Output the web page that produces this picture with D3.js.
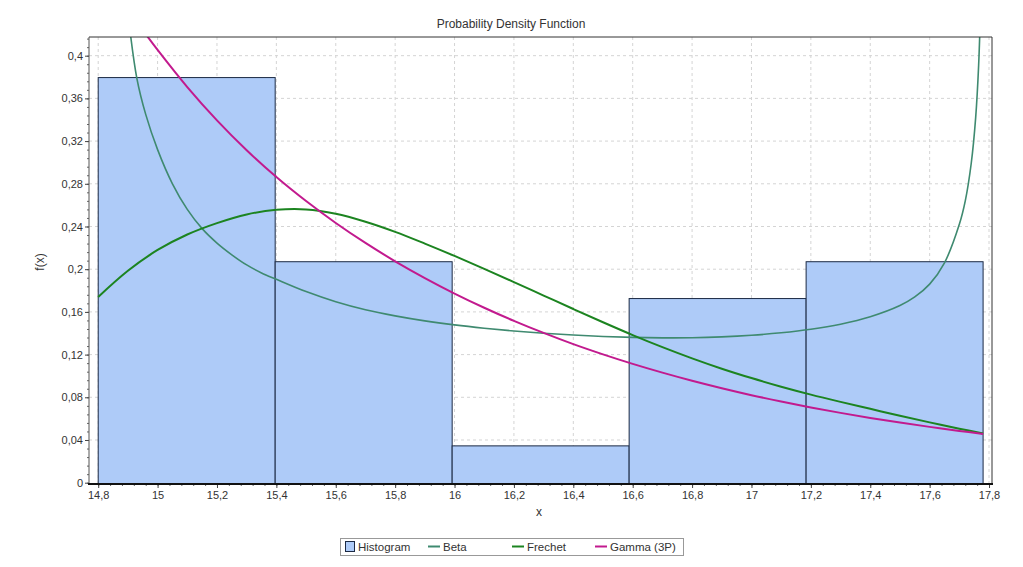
<!DOCTYPE html>
<html>
<head>
<meta charset="utf-8">
<script src="https://cdn.jsdelivr.net/npm/d3@7"></script>
<style>
  html, body { margin: 0; padding: 0; background: #fff; }
  svg text { font-family: "Liberation Sans", Arial, sans-serif; fill: #333; }
</style>
</head>
<body>
<svg id="chart" width="1023" height="567"></svg>
<script>
// ---------- DATA ----------
const binEdges = [14.8, 15.396, 15.992, 16.588, 17.184, 17.78];
const histValues = [0.3795, 0.207, 0.0345, 0.1725, 0.207];

const betaX = [14.9, 14.93, 14.96, 15.0, 15.05, 15.1, 15.15, 15.2, 15.25, 15.3, 15.35, 15.4, 15.5, 15.6, 15.7, 15.8, 15.9, 16.0, 16.1, 16.2, 16.3, 16.4, 16.5, 16.6, 16.7, 16.8, 16.9, 17.0, 17.1, 17.2, 17.3, 17.4, 17.5, 17.55, 17.6, 17.65, 17.7, 17.72, 17.74, 17.755, 17.765, 17.772];
const betaY = [0.44, 0.379, 0.345, 0.312, 0.280, 0.256, 0.238, 0.2245, 0.2135, 0.2040, 0.1965, 0.1905, 0.1790, 0.1695, 0.1620, 0.1563, 0.1516, 0.1478, 0.1447, 0.1421, 0.1400, 0.1383, 0.1370, 0.1361, 0.1357, 0.1358, 0.1366, 0.1381, 0.1404, 0.1437, 0.1485, 0.1555, 0.1660, 0.1740, 0.1860, 0.2060, 0.2420, 0.2640, 0.2990, 0.3420, 0.3910, 0.4510];

const frechetX = [14.8, 14.9, 15.0, 15.1, 15.2, 15.3, 15.4, 15.5, 15.6, 15.7, 15.8, 15.9, 16.0, 16.1, 16.2, 16.3, 16.4, 16.5, 16.6, 16.7, 16.8, 16.9, 17.0, 17.1, 17.2, 17.3, 17.4, 17.5, 17.6, 17.7, 17.78];
const frechetY = [0.174, 0.1985, 0.2180, 0.2325, 0.2432, 0.2513, 0.2556, 0.2560, 0.2520, 0.2445, 0.2350, 0.2240, 0.2124, 0.2003, 0.1879, 0.1753, 0.1627, 0.1503, 0.1383, 0.1270, 0.1165, 0.1068, 0.0980, 0.0899, 0.0825, 0.0757, 0.0692, 0.0627, 0.0565, 0.0506, 0.0460];

const gammaX = [14.96, 15.0, 15.1, 15.2, 15.3, 15.4, 15.5, 15.6, 15.7, 15.8, 15.9, 16.0, 16.1, 16.2, 16.3, 16.4, 16.5, 16.6, 16.7, 16.8, 16.9, 17.0, 17.1, 17.2, 17.3, 17.4, 17.5, 17.6, 17.7, 17.78];
const gammaY = [0.4202, 0.4054, 0.3706, 0.3394, 0.3114, 0.2863, 0.2638, 0.2433, 0.2246, 0.2074, 0.1917, 0.1772, 0.1639, 0.1516, 0.1403, 0.1298, 0.1202, 0.1113, 0.1031, 0.0955, 0.0885, 0.0820, 0.0761, 0.0705, 0.0654, 0.0607, 0.0563, 0.0523, 0.0485, 0.0457];

const xTicks = [14.8, 15, 15.2, 15.4, 15.6, 15.8, 16, 16.2, 16.4, 16.6, 16.8, 17, 17.2, 17.4, 17.6, 17.8];
const yTicks = [0, 0.04, 0.08, 0.12, 0.16, 0.2, 0.24, 0.28, 0.32, 0.36, 0.4];

const seriesNames = ["Histogram", "Beta", "Frechet", "Gamma (3P)"];
const seriesColors = ["#aecbf8", "#3f8a70", "#1c8420", "#c21a8e"];

// ---------- LAYOUT ----------
const svg = d3.select("#chart");
const L = 89, R = 992, T = 37, B = 484;
const x = d3.scaleLinear().domain([14.769, 17.81]).range([L, R]);
const y = d3.scaleLinear().domain([0, 0.4175]).range([482.7, T]);
const fmt = v => d3.format("~g")(+v.toFixed(3)).replace(".", ",");

svg.append("defs").append("clipPath").attr("id", "clip")
  .append("rect").attr("x", L).attr("y", T).attr("width", R - L).attr("height", B - T);

// grid
const grid = svg.append("g");
grid.selectAll("line.vx").data(xTicks).join("line")
  .attr("x1", d => x(d)).attr("x2", d => x(d)).attr("y1", T).attr("y2", B)
  .attr("stroke", "#d4d4d4").attr("stroke-dasharray", "3,3");
grid.selectAll("line.hy").data(yTicks.filter(d => d > 0)).join("line")
  .attr("x1", L).attr("x2", R).attr("y1", d => y(d)).attr("y2", d => y(d))
  .attr("stroke", "#d4d4d4").attr("stroke-dasharray", "3,3");

// histogram
const bins = histValues.map((v, i) => ({ x0: binEdges[i], x1: binEdges[i + 1], v }));
svg.append("g").selectAll("rect").data(bins).join("rect")
  .attr("x", d => x(d.x0)).attr("width", d => x(d.x1) - x(d.x0))
  .attr("y", d => y(d.v)).attr("height", d => y(0) - y(d.v) + 1.3)
  .attr("fill", seriesColors[0]).attr("stroke", "#1c2a44").attr("stroke-width", 1);

// curves
const line = d3.line().x(d => x(d[0])).y(d => y(d[1])).curve(d3.curveCatmullRom.alpha(0.5));
const curves = [
  { xs: betaX, ys: betaY, c: seriesColors[1], w: 1.6 },
  { xs: frechetX, ys: frechetY, c: seriesColors[2], w: 2 },
  { xs: gammaX, ys: gammaY, c: seriesColors[3], w: 2 }
];
const cg = svg.append("g").attr("clip-path", "url(#clip)");
curves.forEach(s => {
  cg.append("path").datum(s.xs.map((v, i) => [v, s.ys[i]]))
    .attr("d", line).attr("fill", "none").attr("stroke", s.c).attr("stroke-width", s.w);
});

// frame: top & right
svg.append("line").attr("x1", L).attr("x2", R).attr("y1", T).attr("y2", T).attr("stroke", "#333");
svg.append("line").attr("x1", R).attr("x2", R).attr("y1", T).attr("y2", B).attr("stroke", "#333");

// axes
const xMinor = d3.range(14.8, 17.81, 0.04);
const yMinor = d3.range(0, 0.4175, 0.008);
const xAxisMinor = d3.axisBottom(x).tickValues(xMinor).tickSize(2).tickFormat("");
const yAxisMinor = d3.axisLeft(y).tickValues(yMinor).tickSize(2).tickFormat("");
svg.append("g").attr("transform", `translate(0,${B})`).call(xAxisMinor)
  .call(g => g.select(".domain").remove()).selectAll("line").attr("stroke", "#666");
svg.append("g").attr("transform", `translate(${L},0)`).call(yAxisMinor)
  .call(g => g.select(".domain").remove()).selectAll("line").attr("stroke", "#666");

const xAxis = d3.axisBottom(x).tickValues(xTicks).tickSize(4).tickPadding(3).tickFormat(fmt);
const gx = svg.append("g").attr("transform", `translate(0,${B})`).call(xAxis);
gx.select(".domain").remove();
gx.selectAll("line").attr("stroke", "#444");
gx.selectAll("text").attr("font-size", 11).style("fill", "#333");

const yAxis = d3.axisLeft(y).tickValues(yTicks).tickSize(4).tickPadding(2).tickFormat(fmt);
const gy = svg.append("g").attr("transform", `translate(${L},0)`).call(yAxis);
gy.select(".domain").remove();
gy.selectAll("line").attr("stroke", "#444");
gy.selectAll("text").attr("font-size", 11).style("fill", "#333");

svg.append("line").attr("x1", L).attr("x2", L).attr("y1", T).attr("y2", B).attr("stroke", "#555");
svg.append("line").attr("x1", L - 1).attr("x2", R + 1).attr("y1", B).attr("y2", B).attr("stroke", "#111").attr("stroke-width", 2);

// titles
svg.append("text").attr("x", 511).attr("y", 28).attr("text-anchor", "middle").attr("font-size", 12)
  .text("Probability Density Function");
svg.append("text").attr("x", 539).attr("y", 516).attr("text-anchor", "middle").attr("font-size", 12).text("x");
svg.append("text").attr("transform", "translate(44,262) rotate(-90)").attr("text-anchor", "middle")
  .attr("font-size", 12).text("f(x)");

// legend
const lg = svg.append("g");
lg.append("rect").attr("x", 340.5).attr("y", 538.5).attr("width", 343).attr("height", 17)
  .attr("fill", "#fff").attr("stroke", "#999");
const legendPos = [345, 428, 512, 595];
seriesNames.forEach((n, i) => {
  const lx = legendPos[i];
  if (i === 0) {
    lg.append("rect").attr("x", lx + 0.5).attr("y", 541.5).attr("width", 9).attr("height", 10)
      .attr("fill", seriesColors[0]).attr("stroke", "#1c2a44");
    lg.append("text").attr("x", lx + 13).attr("y", 551).attr("font-size", 11.5).text(n);
  } else {
    lg.append("line").attr("x1", lx).attr("x2", lx + 12).attr("y1", 546.5).attr("y2", 546.5)
      .attr("stroke", seriesColors[i]).attr("stroke-width", 2);
    lg.append("text").attr("x", lx + 15).attr("y", 551).attr("font-size", 11.5).text(n);
  }
});
</script>
</body>
</html>
